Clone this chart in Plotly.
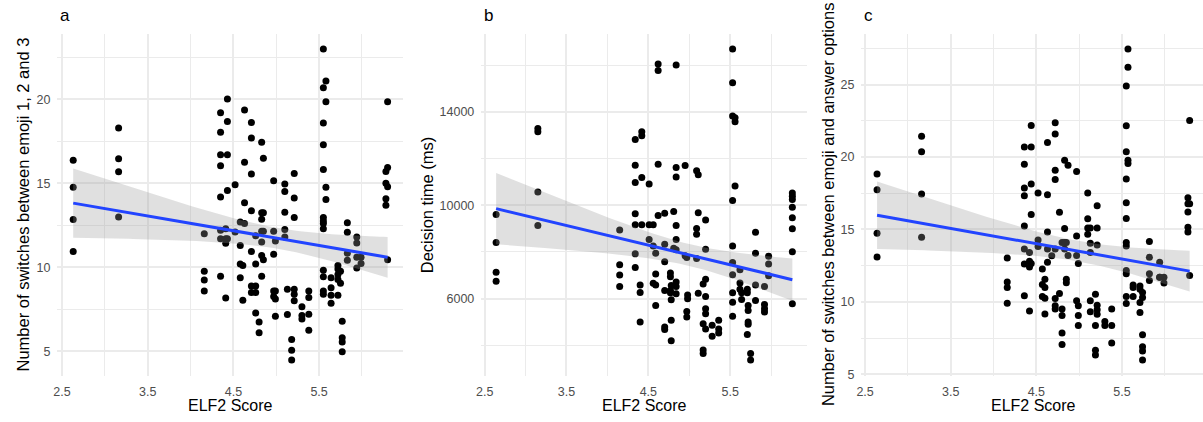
import numpy as np
import plotly.graph_objects as go

# ---------------- data ----------------
# Panel a: number of switches between emoji 1, 2 and 3
a_elf = [2.63, 3.16, 4.16, 4.35, 4.41, 4.43, 4.52, 4.58, 4.61, 4.63, 4.71, 4.76, 4.80,
         4.83, 4.85, 4.97, 4.99, 5.10, 5.13, 5.18, 5.21, 5.30, 5.38, 5.55, 5.58, 5.64,
         5.72, 5.75, 5.77, 5.83, 5.94, 5.99, 6.28, 6.30]
a_vals = [[16.37, 14.76, 12.84, 10.94], [18.29, 16.47, 15.69, 13.0], [12.0, 9.76, 9.24, 8.59],
          [19.2, 18.04, 16.7, 16.04, 14.18, 12.2, 11.7, 9.47], [12.3, 11.7, 11.43, 8.16],
          [20.02, 18.69, 16.7, 14.57, 11.7], [14.92, 12.1], [12.7, 11.29, 10.2, 9.37],
          [10.1, 8.04], [19.37, 16.25, 13.84, 12.6], [18.63, 17.7, 15.55, 13.37, 10.94, 8.88, 8.49],
          [11.88, 10.2, 8.88, 8.49, 7.27], [6.73, 6.1], [17.45, 13.25, 12.86, 12.15, 11.5, 10.7, 9.47],
          [16.49, 13.25, 12.15, 10.45], [15.16, 12.15, 10.78, 8.59, 8.25], [11.57, 8.59, 8.1, 7.08],
          [14.96, 14.51, 13.27, 12.25, 11.8], [8.69, 7.18], [5.7, 5.06, 4.47],
          [15.59, 14.12, 12.96, 8.69, 8.39, 8.0], [7.65, 7.12, 6.92], [8.59, 8.2, 7.2, 6.24],
          [23.0, 20.7, 18.6, 17.3, 15.82, 12.96, 12.76, 12.6, 12.3, 9.82, 9.43, 8.59, 8.39],
          [21.1, 19.86, 14.76, 14.04], [9.37, 8.78, 8.33, 7.86], [10.1, 9.9, 9.57, 9.27, 8.33],
          [9.76, 9.04], [6.78, 5.8, 5.55, 4.96], [12.65, 12.08, 10.84, 10.41],
          [11.8, 11.45, 10.6, 9.96], [10.6, 10.22], [15.7, 15.0, 14.08, 13.69],
          [19.86, 15.94, 14.8, 10.45]]
a_fit_ends = [13.82, 10.59]   # fitted line value at the lowest / highest ELF2 score

# Panel b: decision time (ms)
b_elf = [2.64, 3.15, 4.15, 4.34, 4.40, 4.42, 4.51, 4.56, 4.59, 4.62, 4.70, 4.77, 4.78,
         4.81, 4.84, 4.95, 4.97, 4.98, 5.09, 5.11, 5.17, 5.20, 5.28, 5.36, 5.53, 5.56,
         5.62, 5.64, 5.71, 5.72, 5.75, 5.81, 5.92, 5.97, 6.26]
b_vals = [[9604, 8399, 7123, 6740], [13291, 13149, 10568, 9136], [8935, 7449, 7009, 6513],
          [12823, 11717, 10980, 9633, 9164, 7917, 7335], [6584, 6258, 4996],
          [13149, 12979, 11192, 9164], [10909, 9164, 8527], [9164, 8257, 6655],
          [7945, 7052, 6584, 5705], [16056, 15773, 11760, 9562],
          [9661, 8328, 7577, 6343, 4670, 4783], [7094, 6938, 6343, 6244],
          [5946, 5067, 4188, 6555], [9732, 8158],
          [16013, 11618, 11207, 9136, 8527, 8087, 6711, 6513, 6201], [11703, 7832],
          [7761, 5450, 5209], [6158, 5988], [11476, 9008, 8753, 7718], [11306, 9675, 6229],
          [6626, 4925, 3790, 3648], [9363, 8115, 6825, 6087, 5563, 5351, 4698], [4854, 4386],
          [5067, 4698, 4528],
          [16694, 15248, 13830, 10200, 8257, 7548, 7024, 6244, 5847, 5237],
          [13745, 13575, 10823], [7236, 6669, 6400], [6244, 5960], [6400, 6244, 4457],
          [5705, 5492, 4996, 4897], [3648, 3365], [8838, 7945, 6584, 5918],
          [6513, 5748, 5563, 5421], [7818, 7477, 6981],
          [10526, 10384, 10242, 9916, 9462, 8994, 8002, 5776]]
b_fit_ends = [9856, 6809]

# Panel c: number of switches between emoji and answer options
c_elf = [2.64, 3.16, 4.16, 4.36, 4.42, 4.44, 4.52, 4.57, 4.60, 4.63, 4.68, 4.72, 4.77,
         4.80, 4.83, 4.85, 4.87, 4.97, 4.99, 5.10, 5.13, 5.19, 5.21, 5.30, 5.38, 5.55,
         5.57, 5.63, 5.71, 5.74, 5.82, 5.94, 5.99, 6.27, 6.29]
c_vals = [[18.82, 17.73, 14.73, 13.09], [21.43, 20.36, 17.45, 14.45], [13.02, 11.36, 10.98, 9.9],
          [20.68, 19.5, 17.86, 17.32, 15.23, 13.64, 12.61, 10.41], [12.8, 12.41, 9.36, 13.41],
          [22.18, 20.68, 18.14, 16.02, 12.64], [17.52, 14.27, 13.82], [12.27, 11.2, 10.36],
          [11.55, 10.98, 10.25, 9.16], [21.0, 17.39, 14.82, 13.64, 12.73], [13.18],
          [22.36, 21.59, 19.09, 18.45, 13.64, 10.23, 9.73, 9.5], [16.18, 10.57],
          [14.1, 9.5, 9.05, 7.84, 7.05], [19.77, 15.07, 14.1, 13.64], [14.1, 11.55, 11.32],
          [19.43, 13.2], [19.0, 14.55, 13.2, 10.07], [12.64, 9.73, 9.05, 8.36],
          [17.52, 15.73, 15.09, 14.66], [15.09, 14.05, 13.41, 10.07, 9.32],
          [10.52, 8.36, 6.66, 6.32], [16.64, 15.09, 13.93, 9.77, 9.45, 9.14], [8.64, 8.36],
          [9.5, 8.36, 7.16],
          [24.9, 22.16, 20.36, 18.48, 16.84, 15.75, 14.09, 13.86, 12.16, 11.93, 10.36, 9.89],
          [27.45, 26.2, 19.77, 19.55], [11.16, 10.98, 10.36], [11.09, 10.86, 9.95, 9.27],
          [10.64, 10.3, 7.73, 6.89, 6.61, 5.98], [14.16, 13.07, 11.93, 11.48],
          [12.73, 11.7, 11.7], [11.7, 11.3], [17.18, 16.77, 16.2, 15.14, 14.82],
          [22.52, 16.77, 11.82]]
c_fit_ends = [15.98, 12.12]

panel_labels = ["a", "b", "c"]
y_titles = ["Number of switches between emoji 1, 2 and 3",
            "Decision time (ms)",
            "Number of switches between emoji and answer options"]
x_title = "ELF2 Score"
x_ticks = [2.5, 3.5, 4.5, 5.5]
y_tick_sets = [[5, 10, 15, 20], [6000, 10000, 14000], [5, 10, 15, 20, 25]]
y_minor_steps = [2.5, 2000, 2.5]
T_CRIT = 1.976  # 95% t quantile for ~146 df

# ---------------- layout geometry ----------------
W, H = 1203, 422
x_domains = [[52.7 / W, 400 / W], [478.3 / W, 805.5 / W], [860 / W, 1.0]]
y_domain = [(H - 381) / H, (H - 34) / H]
ytitle_px = [18, 423.5, 826]
xtitle_center_px = [226.3, 642, 1033]

FONT = "Liberation Sans, Arial, Helvetica, sans-serif"
GRID = "#EBEBEB"
LINE_BLUE = "#2244FF"


def expand(xs, yvals):
    xx, yy = [], []
    for x, vs in zip(xs, yvals):
        for v in vs:
            xx.append(x)
            yy.append(v)
    return np.array(xx, float), np.array(yy, float)


def smooth(x, y, ends):
    """Straight fitted line through the two read end values, with a 95% band
    whose half-width follows the standard error of an OLS fit to the points."""
    n = len(x)
    x0, x1 = x.min(), x.max()
    slope = (ends[1] - ends[0]) / (x1 - x0)
    resid = y - (ends[0] + slope * (x - x0))
    resid = resid - resid.mean()
    s = np.sqrt(np.sum(resid ** 2) / (n - 2))
    xm = x.mean()
    sxx = np.sum((x - xm) ** 2)
    xs = np.linspace(x0, x1, 80)
    yh = ends[0] + slope * (xs - x0)
    se = s * np.sqrt(1.0 / n + (xs - xm) ** 2 / sxx)
    return xs, yh, yh - T_CRIT * se, yh + T_CRIT * se


fig = go.Figure()
datasets = [(a_elf, a_vals, a_fit_ends), (b_elf, b_vals, b_fit_ends), (c_elf, c_vals, c_fit_ends)]
annotations = []
for i, (xs_, vs_, ends_) in enumerate(datasets):
    k = "" if i == 0 else str(i + 1)
    x, y = expand(xs_, vs_)
    fx, fy, lo, hi = smooth(x, y, ends_)
    xa, ya = "x" + k, "y" + k
    fig.add_trace(go.Scatter(x=x, y=y, mode="markers", xaxis=xa, yaxis=ya,
                             marker=dict(color="black", size=7, line=dict(width=0)),
                             showlegend=False, hoverinfo="skip"))
    fig.add_trace(go.Scatter(x=np.concatenate([fx, fx[::-1]]),
                             y=np.concatenate([hi, lo[::-1]]),
                             mode="lines", fill="toself", xaxis=xa, yaxis=ya,
                             fillcolor="rgba(153,153,153,0.3)", line=dict(width=0),
                             showlegend=False, hoverinfo="skip"))
    fig.add_trace(go.Scatter(x=fx, y=fy, mode="lines", xaxis=xa, yaxis=ya,
                             line=dict(color=LINE_BLUE, width=3),
                             showlegend=False, hoverinfo="skip"))

    xr = x.max() - x.min()
    x_range = [x.min() - 0.05 * xr, x.max() + 0.05 * xr]
    if i == 2:
        x_range[1] = x_range[0] + (W - 860) / 86.0
    yr = y.max() - y.min()
    y_range = [y.min() - 0.05 * yr, y.max() + 0.05 * yr]

    common = dict(showline=False, zeroline=False, ticks="", showgrid=True,
                  gridcolor=GRID, gridwidth=1.6,
                  tickfont=dict(family=FONT, size=12.5, color="#4D4D4D"))
    fig.layout["xaxis" + k] = dict(domain=x_domains[i], range=x_range, anchor=ya,
                                   tickvals=x_ticks, ticktext=[str(t) for t in x_ticks],
                                   minor=dict(dtick=0.5, tick0=2.5, showgrid=True,
                                              gridcolor=GRID, gridwidth=0.9),
                                   ticklabelstandoff=7, **common)
    yt = y_tick_sets[i]
    fig.layout["yaxis" + k] = dict(domain=y_domain, range=y_range, anchor=xa,
                                   tickvals=yt, ticktext=[str(t) for t in yt],
                                   minor=dict(dtick=y_minor_steps[i], tick0=0, showgrid=True,
                                              gridcolor=GRID, gridwidth=0.9),
                                   ticklabelstandoff=6, **common)

    annotations.append(dict(text=panel_labels[i], xref="paper", yref="paper",
                            x=x_domains[i][0] + 1 / W, y=1 - 16 / H, xanchor="left",
                            yanchor="middle", showarrow=False,
                            font=dict(family=FONT, size=17, color="black")))
    annotations.append(dict(text=y_titles[i], xref="paper", yref="paper",
                            x=ytitle_px[i] / W, y=sum(y_domain) / 2, textangle=-90,
                            xanchor="center", yanchor="middle", showarrow=False,
                            font=dict(family=FONT, size=16.5, color="black")))
    annotations.append(dict(text=x_title, xref="paper", yref="paper",
                            x=xtitle_center_px[i] / W, y=1 - 411 / H,
                            xanchor="center", yanchor="middle", showarrow=False,
                            font=dict(family=FONT, size=16, color="black")))

fig.update_layout(width=W, height=H, margin=dict(l=0, r=0, t=0, b=0),
                  paper_bgcolor="white", plot_bgcolor="white",
                  annotations=annotations, showlegend=False)

fig.write_html("out.html")
